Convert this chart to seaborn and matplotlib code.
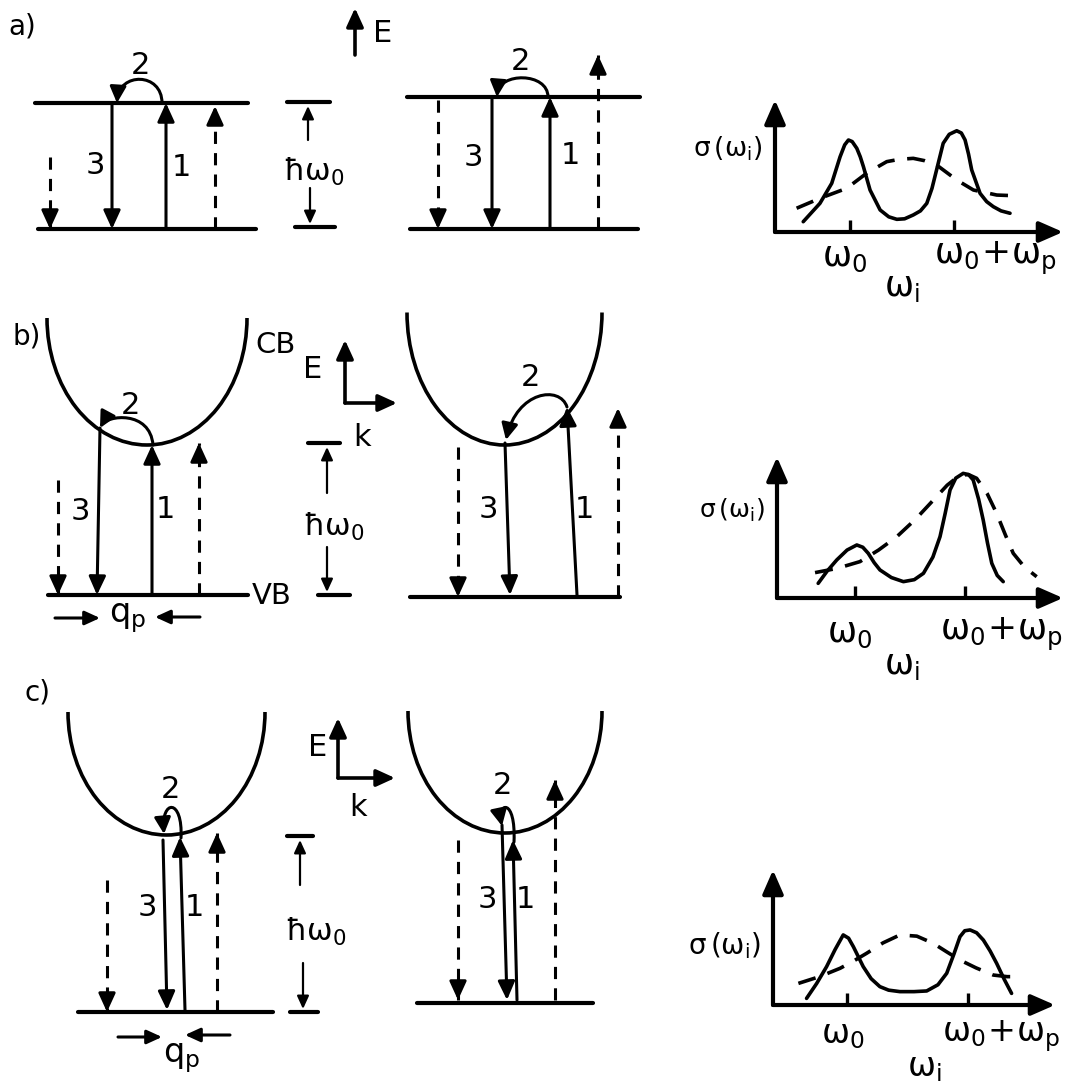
import numpy as np
import pandas as pd
import matplotlib
matplotlib.use("Agg")
import matplotlib.pyplot as plt
from matplotlib.patches import Arc, FancyArrowPatch
from matplotlib.path import Path
import seaborn as sns

# ---------------------------------------------------------------------------
# Scattering cross-section spectra sigma(omega_i), arbitrary units (0..10)
# ---------------------------------------------------------------------------
# a) discrete levels
omega_a_res = [0.98, 1.56, 1.97, 2.26, 2.42, 2.55, 2.68, 2.84, 2.96, 3.07, 3.30,
               3.65, 3.95, 4.23, 4.50, 4.80, 5.05, 5.27, 5.45, 5.61, 5.84, 6.05,
               6.31, 6.47, 6.60, 6.72, 6.83, 7.12, 7.35, 7.58, 7.85, 8.16]
sigma_a_res = [0.78, 2.17, 3.69, 5.70, 6.60, 6.97, 6.85, 6.34, 5.70, 4.95, 3.18,
               1.67, 1.15, 0.96, 1.00, 1.29, 1.60, 2.17, 3.30, 4.70, 6.72, 7.40,
               7.67, 7.50, 6.97, 5.90, 4.70, 2.93, 2.30, 1.92, 1.60, 1.42]
omega_a_bkg = [0.75, 1.56, 2.49, 3.18, 3.88, 4.30, 4.80, 5.20, 5.61, 6.31, 6.89,
               7.70, 8.51]
sigma_a_bkg = [1.80, 2.55, 3.31, 4.45, 5.33, 5.50, 5.58, 5.40, 5.08, 3.94, 3.18,
               2.80, 2.73]

# b) bands, finite phonon wave vector
omega_b_res = [1.44, 1.75, 2.09, 2.45, 2.79, 3.00, 3.19, 3.40, 3.60, 4.00, 4.42,
               4.80, 5.12, 5.45, 5.70, 5.88, 6.05, 6.25, 6.51, 6.70, 6.86, 7.05,
               7.21, 7.36, 7.51, 7.70, 7.91]
sigma_b_res = [1.04, 1.90, 2.70, 3.40, 3.76, 3.60, 3.17, 2.50, 1.99, 1.45, 1.16,
               1.30, 1.75, 2.90, 4.35, 6.00, 7.66, 8.50, 8.84, 8.75, 8.37, 7.00,
               5.53, 3.90, 2.46, 1.60, 1.16]
omega_b_bkg = [1.33, 2.10, 2.90, 3.55, 4.19, 4.85, 5.47, 5.95, 6.40, 6.70, 6.98,
               7.35, 7.68, 7.98, 8.26, 8.65, 9.08]
sigma_b_bkg = [1.80, 2.10, 2.58, 3.40, 4.35, 5.60, 6.95, 8.00, 8.72, 8.75, 8.49,
               7.40, 6.00, 4.50, 3.17, 2.20, 1.51]

# c) bands, small phonon wave vector
omega_c_res = [1.19, 1.55, 1.90, 2.20, 2.49, 2.68, 2.85, 3.02, 3.20, 3.48, 3.79,
               4.10, 4.50, 5.00, 5.45, 5.85, 6.16, 6.42, 6.63, 6.80, 6.99, 7.22,
               7.46, 7.70, 7.93, 8.20, 8.46]
sigma_c_res = [0.49, 1.60, 2.84, 4.10, 5.19, 4.95, 4.32, 3.60, 2.84, 1.95, 1.36,
               1.10, 0.99, 0.99, 1.04, 1.50, 2.35, 3.80, 5.06, 5.50, 5.56, 5.35,
               4.81, 4.00, 3.09, 1.90, 0.86]
omega_c_bkg = [0.90, 1.65, 2.38, 2.85, 3.32, 3.90, 4.50, 5.10, 5.68, 6.15, 6.63,
               7.20, 7.81, 8.30, 8.76]
sigma_c_bkg = [1.60, 2.10, 2.72, 3.25, 3.83, 4.60, 5.19, 5.10, 4.57, 3.95, 3.33,
               2.75, 2.22, 2.10, 2.10]

# tick positions (omega_0, omega_0 + omega_p) on each spectrum axis
ticks_a = [2.60, 6.20]
ticks_b = [2.73, 6.57]
ticks_c = [2.62, 6.91]

tick_labels = [r"$\omega_0$", r"$\omega_0\!+\!\omega_p$"]

INK = "black"
W, H = 1065, 1082

sns.set_theme(style="white")
plt.rcParams["font.family"] = ["DejaVu Sans"]
plt.rcParams["mathtext.fontset"] = "dejavusans"
plt.rcParams["mathtext.default"] = "regular"

fig = plt.figure(figsize=(W / 100, H / 100), dpi=100)
fig.patch.set_facecolor("white")

# full-page drawing canvas in pixel units
cv = fig.add_axes([0, 0, 1, 1])
cv.set_xlim(0, W)
cv.set_ylim(H, 0)
cv.axis("off")


def seg(x0, y0, x1, y1, lw=3.0, dashed=False):
    kw = dict(color=INK, lw=lw, solid_capstyle="round")
    if dashed:
        kw["dashes"] = (4, 3)
        kw["dash_capstyle"] = "butt"
    cv.plot([x0, x1], [y0, y1], **kw)


def arrow(x0, y0, x1, y1, lw=2.2, ms=16, dashed=False):
    style = "-|>,head_length=0.7,head_width=0.32"
    props = dict(arrowstyle=style, lw=lw, color=INK, shrinkA=0, shrinkB=0,
                 mutation_scale=ms)
    if dashed:
        seg(x0, y0, x1, y1, lw=lw, dashed=True)
        L = np.hypot(x1 - x0, y1 - y0)
        ux, uy = (x1 - x0) / L, (y1 - y0) / L
        x0, y0 = x1 - ux * 13, y1 - uy * 13
    cv.annotate("", xy=(x1, y1), xytext=(x0, y0), arrowprops=props)


def hop(p0, p1, p2, p3, lw=2.2):
    path = Path([p0, p1, p2, p3],
                [Path.MOVETO, Path.CURVE4, Path.CURVE4, Path.CURVE4])
    cv.add_patch(FancyArrowPatch(path=path,
                                 arrowstyle="-|>,head_length=0.7,head_width=0.35",
                                 mutation_scale=14, lw=lw, color=INK))


def band(cx, cy, w, h):
    cv.add_patch(Arc((cx, cy), w, h, theta1=0, theta2=180, lw=2.6, color=INK))


def txt(x, y, s, fs=22, ha="center", va="center"):
    cv.text(x, y, s, fontsize=fs, ha=ha, va=va, color=INK)


def gap_marker(x_top, y_top, x_bot, y_bot, y_lab, x_lab, y_a, y_b, xl, xr, xl2, xr2):
    seg(xl, y_top, xr, y_top, lw=3)
    arrow(x_top, y_a, x_top, y_top + 4, lw=1.6, ms=11)
    txt(x_lab, y_lab, r"ħ$\omega_0$", fs=22)
    arrow(x_bot, y_b, x_bot, y_bot - 3, lw=1.6, ms=11)
    seg(xl2, y_bot, xr2, y_bot, lw=3)


def ek_axes(cx, cy, top, right, ex, ey, kx, ky):
    arrow(cx, cy, cx, top, lw=2.6, ms=16)
    arrow(cx, cy, right, cy, lw=2.6, ms=16)
    txt(ex, ey, "E", fs=22)
    txt(kx, ky, "k", fs=22)


# ----------------------------- a) two levels -------------------------------
txt(22, 26, "a)", fs=20)
seg(35, 103, 248, 103)
seg(38, 229, 256, 229)
arrow(50, 157, 50, 229, dashed=True)
arrow(112, 103, 112, 229)
arrow(166, 229, 166, 103)
arrow(215, 229, 215, 106, dashed=True)
hop((162, 103), (162, 72), (119, 72), (117, 103))
txt(140, 66, "2")
txt(95, 165, "3")
txt(181, 168, "1")
gap_marker(308, 102, 310, 227, 172, 314, 140, 188, 287, 330, 295, 335)
arrow(355, 55, 355, 8, lw=2.6, ms=16)
txt(383, 33, "E", fs=22)

seg(407, 97, 640, 97)
seg(410, 229, 638, 229)
arrow(438, 100, 438, 229, dashed=True)
arrow(492, 97, 492, 229)
arrow(550, 229, 550, 97)
arrow(598, 229, 598, 55, dashed=True)
hop((548, 97), (548, 72), (499, 72), (497, 97))
txt(520, 62, "2")
txt(473, 158, "3")
txt(570, 155, "1")

# ----------------------------- b) bands ------------------------------------
txt(27, 337, "b)", fs=20)
band(147, 318, 200, 254)
txt(276, 345, "CB", fs=21)
seg(48, 595, 248, 595)
txt(272, 596, "VB", fs=21)
arrow(58, 480, 58, 595, dashed=True)
arrow(100, 428, 97, 595)
arrow(152, 595, 152, 445)
arrow(199, 595, 199, 443, dashed=True)
hop((153, 445), (150, 410), (107, 415), (100, 428))
txt(130, 405, "2")
txt(80, 512, "3")
txt(165, 510, "1")
ek_axes(345, 403, 340, 397, 313, 370, 362, 437)
gap_marker(327, 443, 327, 595, 527, 334, 493, 547, 308, 340, 318, 350)
arrow(55, 618, 100, 618, lw=2.2, ms=13)
arrow(200, 617, 155, 617, lw=2.2, ms=13)
txt(128, 618, r"$q_p$", fs=24)

band(504.5, 312.5, 195, 265)
seg(410, 597, 620, 597)
arrow(458, 447, 458, 597, dashed=True)
arrow(505, 443, 510, 595)
arrow(577, 595, 567, 407)
arrow(618, 597, 618, 408, dashed=True)
hop((567, 407), (560, 385), (517, 391), (506, 440))
txt(530, 377, "2")
txt(488, 510, "3")
txt(584, 510, "1")

# ----------------------------- c) bands ------------------------------------
txt(37, 692, "c)", fs=20)
band(166.5, 712, 197, 246)
seg(78, 1012, 273, 1012)
arrow(107, 880, 107, 1012, dashed=True)
arrow(163, 840, 167, 1010)
arrow(185, 1010, 180, 837)
arrow(217, 1012, 217, 833, dashed=True)
hop((181, 838), (183, 798), (161, 799), (164, 834))
txt(170, 790, "2")
txt(147, 908, "3")
txt(194, 907, "1")
gap_marker(300, 836, 303, 1012, 932, 316, 885, 963, 287, 313, 290, 318)
ek_axes(338, 778, 718, 395, 318, 748, 358, 808)
arrow(118, 1037, 162, 1037, lw=2.2, ms=13)
arrow(230, 1035, 185, 1035, lw=2.2, ms=13)
txt(182, 1058, r"$q_p$", fs=24)

band(505, 711, 194, 244)
seg(417, 1003, 593, 1003)
arrow(458, 840, 458, 1000, dashed=True)
arrow(502, 825, 507, 1000)
arrow(517, 1000, 513, 840)
arrow(555, 1000, 555, 780, dashed=True)
hop((514, 842), (516, 797), (497, 802), (502, 826))
txt(502, 785, "2")
txt(487, 900, "3")
txt(525, 900, "1")


# ----------------------------- spectra -------------------------------------
def spectrum(box, om_res, sg_res, om_bkg, sg_bkg, ticks, lab_x, lab_dy,
             wi_x, wi_dy, ylab_y, ylab_fs, lab_fs=25):
    x0, x1, y0, y1 = box
    ax = fig.add_axes([x0 / W, 1 - y0 / H, (x1 - x0) / W, (y0 - y1) / H])
    ax.set_facecolor("none")
    df = pd.concat([
        pd.DataFrame({"omega": om_res, "sigma": sg_res, "part": "resonant"}),
        pd.DataFrame({"omega": om_bkg, "sigma": sg_bkg, "part": "broad"}),
    ])
    sns.lineplot(data=df, x="omega", y="sigma", style="part", estimator=None,
                 sort=False, color=INK, lw=2.6, legend=False, ax=ax,
                 dashes={"resonant": "", "broad": (5, 3.5)})
    for ln in ax.get_lines():
        ln.set_solid_joinstyle("round")
        ln.set_solid_capstyle("round")
    ax.set_xlim(0, 10)
    ax.set_ylim(0, 10)
    for s in ax.spines.values():
        s.set_visible(False)
    ax.set_xlabel("")
    ax.set_ylabel("")
    ax.set_yticks([])
    ax.set_xticks(ticks)
    ax.tick_params(axis="x", direction="in", length=9, width=2.4, color=INK,
                   labelbottom=False, bottom=True)
    props = dict(arrowstyle="-|>,head_length=0.8,head_width=0.35", lw=3,
                 color=INK, shrinkA=0, shrinkB=0, mutation_scale=18)
    ax.annotate("", xy=(1.0, 0), xytext=(0, 0), xycoords="axes fraction",
                arrowprops=props, annotation_clip=False)
    ax.annotate("", xy=(0, 1.0), xytext=(0, 0), xycoords="axes fraction",
                arrowprops=props, annotation_clip=False)
    for lx, s in zip(lab_x, tick_labels):
        ax.annotate(s, xy=(lx, 0), xycoords=("data", "axes fraction"),
                    xytext=(0, -lab_dy), textcoords="offset pixels",
                    ha="center", va="top", fontsize=lab_fs, color=INK,
                    annotation_clip=False)
    ax.annotate(r"$\omega_i$", xy=(wi_x, 0), xycoords=("data", "axes fraction"),
                xytext=(0, -wi_dy), textcoords="offset pixels",
                ha="center", va="top", fontsize=lab_fs, color=INK,
                annotation_clip=False)
    ax.annotate(r"$\sigma\,(\omega_i)$", xy=(0, ylab_y),
                xycoords=("axes fraction", "data"), xytext=(-12, 0),
                textcoords="offset pixels", ha="right", va="center",
                fontsize=ylab_fs, color=INK, annotation_clip=False)
    return ax


spectrum((775, 1063, 232, 100), omega_a_res, sigma_a_res, omega_a_bkg,
         sigma_a_bkg, ticks_a, [2.43, 7.67], 8, 4.41, 38, 6.3, 19)
spectrum((777, 1063, 598, 457), omega_b_res, sigma_b_res, omega_b_bkg,
         sigma_b_bkg, ticks_b, [2.55, 7.83], 18, 4.37, 50, 6.2, 18)
spectrum((773, 1055, 1005, 870), omega_c_res, sigma_c_res, omega_c_bkg,
         sigma_c_bkg, ticks_c, [2.48, 8.10], 13, 5.35, 46, 4.4, 20, lab_fs=24)

fig.savefig("out.png", dpi=100, facecolor="white")
